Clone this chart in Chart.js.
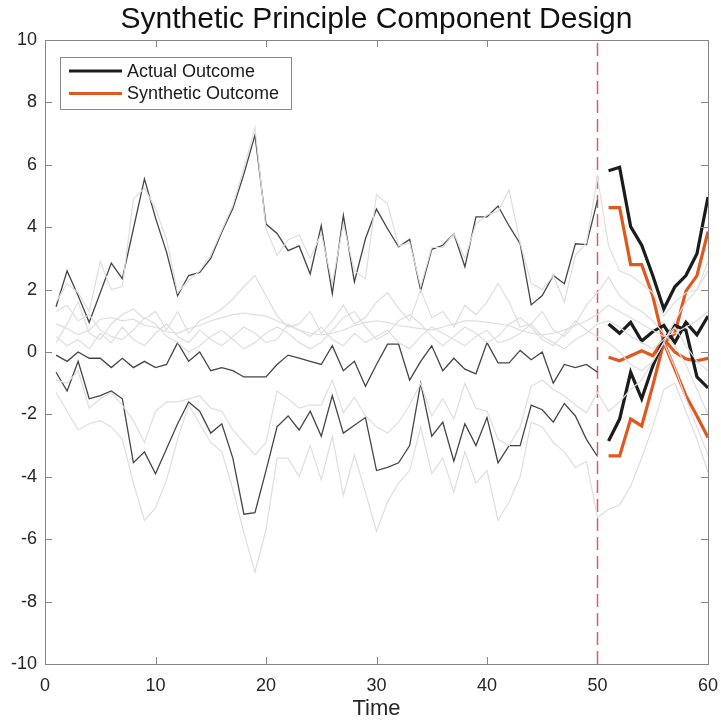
<!DOCTYPE html>
<html>
<head>
<meta charset="utf-8">
<script src="https://cdn.jsdelivr.net/npm/chart.js@4/dist/chart.umd.min.js"></script>
<style>
  html, body { margin: 0; padding: 0; background: #fff; }
  #wrap { width: 721px; height: 722px; }
</style>
</head>
<body>
<div id="wrap"><canvas id="chart" width="721" height="722"></canvas></div>
<script>
const titleText = 'Synthetic Principle Component Design';
const xTitle = 'Time';
const legendLabels = ['Actual Outcome', 'Synthetic Outcome'];
const treatTime = 50;

const timePre = Array.from({ length: 50 }, (_, i) => i + 1);
const timePost = Array.from({ length: 10 }, (_, i) => i + 51);
const timeAll = timePre.concat(timePost);

// treated units, pre-period (thin black)
const topPre = [1.45, 2.6, 1.8, 0.95, 1.9, 2.85, 2.35, 3.95, 5.55, 4.3, 3.2, 1.8, 2.45, 2.55, 3.0, 3.85, 4.6, 5.7, 6.95, 4.1,
  3.8, 3.25, 3.4, 2.5, 4.05, 1.87, 4.38, 2.25, 3.63, 4.58, 3.95, 3.37, 3.61, 1.97, 3.29, 3.42, 3.79, 2.73, 4.33, 4.33,
  4.68, 4.04, 3.47, 1.51, 1.81, 2.45, 2.19, 3.47, 3.44, 4.87];
const midPre = [-0.1, -0.3, 0.0, -0.2, -0.2, -0.5, -0.2, -0.5, -0.3, -0.5, -0.4, 0.3, -0.3, 0.0, -0.6, -0.5, -0.6, -0.8, -0.8, -0.8,
  -0.4, -0.1, -0.2, -0.3, -0.4, 0.2, -0.6, -0.3, -1.1, -0.4, 0.25, 0.25, -0.9, -0.3, 0.2, -0.6, -0.2, -0.55, -0.7, 0.3,
  -0.35, -0.35, 0.05, -0.25, 0.0, -1.0, -0.4, -0.5, -0.4, -0.65];
const lowPre = [-0.65, -1.25, -0.3, -1.5, -1.4, -1.25, -1.5, -3.55, -3.2, -3.9, -3.1, -2.3, -1.6, -1.9, -2.6, -2.3, -3.4, -5.2, -5.15, -3.8,
  -2.4, -2.05, -2.5, -1.9, -2.7, -1.4, -2.6, -2.35, -2.1, -3.8, -3.7, -3.55, -3.0, -1.0, -2.7, -2.25, -3.5, -2.3, -3.0, -2.1,
  -3.55, -3.0, -3.0, -1.7, -1.85, -2.25, -1.65, -2.05, -2.8, -3.35];

// treated units, post-period (thick black)
const topPost = [5.81, 5.92, 4.02, 3.42, 2.45, 1.38, 2.09, 2.45, 3.15, 4.97];
const midPost = [0.9, 0.6, 0.95, 0.35, 0.65, 0.85, 0.3, 0.95, 0.55, 1.15];
const lowPost = [-2.85, -2.15, -0.65, -1.5, -0.45, 0.4, 0.85, 0.7, -0.8, -1.15];

// synthetic outcomes, post-period (orange)
const synTop = [4.63, 4.63, 2.8, 2.8, 1.8, 0.3, 0.6, 1.95, 2.45, 3.86];
const synMid = [-0.17, -0.28, -0.12, 0.04, -0.12, 0.42, 0.0, -0.22, -0.28, -0.2];
const synLow = [-3.33, -3.33, -2.15, -2.37, -1.08, 0.3, -0.55, -1.4, -2.05, -2.74];

// donor units (light grey), t = 1..60
const donorA = [1.6, 2.2, 1.9, 1.3, 2.9, 2.0, 2.1, 4.9, 5.25, 4.6, 3.6, 1.9, 2.3, 2.6, 3.1, 3.9, 4.7, 5.9, 7.2, 3.95,
  3.1, 3.6, 3.75, 3.0, 3.8, 2.2, 4.1, 2.6, 2.35, 5.05, 4.75, 3.4, 3.5, 2.1, 3.35, 3.35, 3.8, 3.0, 4.1, 4.4,
  4.5, 5.2, 3.5, 2.2, 2.0, 2.45, 1.6, 3.1, 3.5, 5.6, 3.4, 2.6, 2.45, 2.2, 1.9, 1.15, 1.6, 1.9, 2.0, 2.9];
const donorB = [-1.3, -1.9, -2.5, -2.3, -2.2, -2.4, -2.8, -4.2, -5.4, -5.0, -4.1, -2.8, -1.7, -2.3, -2.9, -3.2, -4.4, -5.8, -7.05, -5.7,
  -3.4, -3.4, -4.0, -3.0, -4.1, -2.7, -4.6, -3.3, -4.5, -5.75, -4.8, -4.2, -3.8, -2.4, -3.9, -3.4, -4.5, -3.2, -4.2, -3.8,
  -5.4, -4.8, -4.0, -2.25, -2.4, -2.9, -3.2, -3.7, -3.5, -5.3, -5.05, -4.9, -4.3, -3.4, -2.4, -1.2, -1.0, -1.9, -2.8, -3.85];
const donorC = [-0.9, -1.0, -0.6, -1.8, -1.5, -1.3, -1.7, -2.2, -2.9, -1.9, -1.6, -1.6, -1.5, -1.4, -1.8, -1.9, -2.5, -2.9, -3.3, -2.9,
  -1.25, -1.5, -1.8, -1.7, -1.7, -0.9, -1.95, -1.45, -2.05, -2.4, -2.6, -2.25, -1.7, -1.0, -2.05, -1.5, -2.15, -1.0, -1.8, -1.9,
  -2.8, -3.0, -2.4, -1.1, -0.9, -1.2, -1.4, -1.7, -1.95, -1.3, -1.9, -1.6, -1.2, -0.9, -0.3, 0.3, -0.5, -1.5, -2.4, -3.3];
const donorD = [0.9, 0.75, 0.55, 0.7, 1.05, 1.1, 1.0, 1.05, 0.85, 0.8, 0.65, 0.6, 0.75, 0.85, 1.0, 1.1, 1.2, 1.25, 1.2, 1.15,
  1.0, 0.85, 0.7, 0.6, 0.55, 0.6, 0.7, 0.85, 0.95, 1.0, 0.95, 0.85, 0.8, 0.75, 0.7, 0.8, 0.9, 1.0, 1.0, 0.95,
  0.9, 0.85, 0.7, 0.6, 0.55, 0.6, 0.7, 0.85, 1.0, 1.2, 1.5, 1.3, 1.1, 0.9, 0.7, 0.5, 0.6, 0.8, 1.0, 1.3];
const donorE = [0.3, 0.9, 1.6, 0.6, 0.4, 0.9, 1.2, 1.38, 1.06, 1.3, 0.7, 1.3, 0.6, 1.0, 1.16, 1.38, 1.7, 2.1, 2.45, 1.8,
  1.16, 0.8, 0.9, 1.3, 0.6, 1.0, 1.5, 0.9, 1.1, 1.6, 1.9, 1.4, 1.0, 2.0, 1.1, 1.3, 0.8, 1.5, 1.2, 1.6,
  2.2, 1.6, 0.8, 0.9, 1.3, 0.7, 0.5, 0.9, 1.5, 1.9, 2.4, 1.8, 1.5, 1.3, 1.0, 0.6, 0.2, -0.4, -1.2, -2.0];
const donorF = [0.5, 0.2, 0.4, 0.1, 0.6, 0.3, 0.8, 0.4, 0.2, 0.6, 0.9, 0.5, 0.3, 0.7, 0.4, 0.2, 0.5, 0.8, 0.6, 0.3,
  0.4, 0.9, 0.7, 0.5, 0.8, 0.4, 0.2, 0.6, 0.3, 0.5, 0.7, 0.3, 0.1, 0.5, 0.8, 0.6, 0.4, 0.2, 0.5, 0.7,
  0.3, 0.4, 0.6, 0.9, 0.5, 0.3, 0.1, 0.4, 0.6, 0.9, 1.0, 0.8, 0.5, 0.3, 0.1, 0.4, 0.8, 0.2, -0.3, -0.6];
const donorG = [1.3, 1.5, 1.0, 1.2, 0.7, 0.5, 0.4, 0.7, 1.1, 0.9, 0.5, 0.3, 0.0, 0.2, 0.5, 0.7, 0.4, 0.1, 0.3, 0.6,
  0.8, 0.6, 0.3, 0.1, 0.3, 0.7, 1.1, 1.3, 0.8, 0.4, 0.6, 1.0, 1.2, 0.9, 0.5, 0.2, 0.5, 0.8, 0.6, 0.3,
  0.5, 0.9, 1.1, 0.8, 0.4, 0.2, 0.6, 1.0, 0.7, 0.5, 0.3, 0.0, -0.4, -0.6, -0.3, 0.3, 1.0, 1.6, 2.0, 2.6];

const xTicks = [0, 10, 20, 30, 40, 50, 60];
const yTicks = [-10, -8, -6, -4, -2, 0, 2, 4, 6, 8, 10];

const BLACK = '#1c1c1c';
const THIN = '#454545';
const ORANGE = '#e0581f';
const GREY = '#dedede';
const DASH = '#dc5a70';
const FONT = '"Liberation Sans", Arial, Helvetica, sans-serif';

const pts = (xs, ys) => xs.map((x, i) => ({ x, y: ys[i] }));
const line = (data, color, width, extra) => Object.assign({
  data, borderColor: color, borderWidth: width, pointRadius: 0, fill: false, tension: 0
}, extra || {});

const datasets = [
  ...[donorA, donorB, donorC, donorD, donorE, donorF, donorG].map((d) => line(pts(timeAll, d), GREY, 1.2)),
  ...[topPre, midPre, lowPre].map((d) => line(pts(timePre, d), THIN, 1.3)),
  ...[topPost, midPost, lowPost].map((d) => line(pts(timePost, d), BLACK, 3.2)),
  ...[synTop, synMid, synLow].map((d) => line(pts(timePost, d), ORANGE, 3.2)),
  line(pts([treatTime, treatTime], [-10, 10]), DASH, 1.5, { borderDash: [13, 6] })
];

// box, inward ticks, title and legend like the original figure
const frame = {
  id: 'frame',
  afterDraw(chart) {
    const { ctx, chartArea: a, scales } = chart;
    ctx.save();
    ctx.strokeStyle = '#858585';
    ctx.lineWidth = 1;
    ctx.strokeRect(a.left + 0.5, a.top + 0.5, a.right - a.left, a.bottom - a.top);
    ctx.beginPath();
    xTicks.forEach((v) => {
      if (v === treatTime) return;
      const px = Math.round(scales.x.getPixelForValue(v)) + 0.5;
      ctx.moveTo(px, a.bottom); ctx.lineTo(px, a.bottom - 7);
      ctx.moveTo(px, a.top); ctx.lineTo(px, a.top + 7);
    });
    yTicks.forEach((v) => {
      const py = Math.round(scales.y.getPixelForValue(v)) + 0.5;
      ctx.moveTo(a.left, py); ctx.lineTo(a.left + 7, py);
      ctx.moveTo(a.right, py); ctx.lineTo(a.right - 7, py);
    });
    ctx.stroke();

    ctx.fillStyle = '#111';
    ctx.font = '30px ' + FONT;
    ctx.textAlign = 'center';
    ctx.textBaseline = 'middle';
    ctx.fillText(titleText, (a.left + a.right) / 2, 20);

    const bx = a.left + 15, by = a.top + 17, bw = 231, bh = 52;
    ctx.fillStyle = '#fff';
    ctx.fillRect(bx, by, bw, bh);
    ctx.strokeStyle = '#8a8a8a';
    ctx.strokeRect(bx + 0.5, by + 0.5, bw, bh);
    ctx.font = '18px ' + FONT;
    ctx.textAlign = 'left';
    [BLACK, ORANGE].forEach((c, i) => {
      const ly = by + 14 + i * 22.5;
      ctx.strokeStyle = c;
      ctx.lineWidth = 3;
      ctx.beginPath();
      ctx.moveTo(bx + 9, ly); ctx.lineTo(bx + 62, ly);
      ctx.stroke();
      ctx.fillStyle = '#1a1a1a';
      ctx.fillText(legendLabels[i], bx + 67, ly + 1);
    });
    ctx.restore();
  }
};

new Chart(document.getElementById('chart'), {
  type: 'line',
  data: { datasets },
  options: {
    responsive: false,
    animation: false,
    layout: { padding: { top: 40, right: 13, left: 0, bottom: 0 } },
    scales: {
      x: {
        type: 'linear', min: 0, max: 60,
        afterBuildTicks: (s) => { s.ticks = xTicks.map((v) => ({ value: v })); },
        afterFit: (s) => { s.height = 58; s.paddingLeft = 0; s.paddingRight = 0; },
        grid: { display: false, drawTicks: false },
        border: { display: false },
        ticks: { color: '#262626', padding: 11, maxRotation: 0, font: { family: FONT, size: 18 } },
        title: { display: true, text: xTitle, color: '#262626', padding: { top: 0, bottom: 0 }, font: { family: FONT, size: 22 } }
      },
      y: {
        type: 'linear', min: -10, max: 10,
        afterBuildTicks: (s) => { s.ticks = yTicks.map((v) => ({ value: v })); },
        afterFit: (s) => { s.width = 45; s.paddingTop = 0; s.paddingBottom = 0; },
        grid: { display: false, drawTicks: false },
        border: { display: false },
        ticks: { color: '#262626', padding: 8, font: { family: FONT, size: 18 } }
      }
    },
    plugins: {
      legend: { display: false },
      tooltip: { enabled: false },
      title: { display: false }
    }
  },
  plugins: [frame]
});
</script>
</body>
</html>
